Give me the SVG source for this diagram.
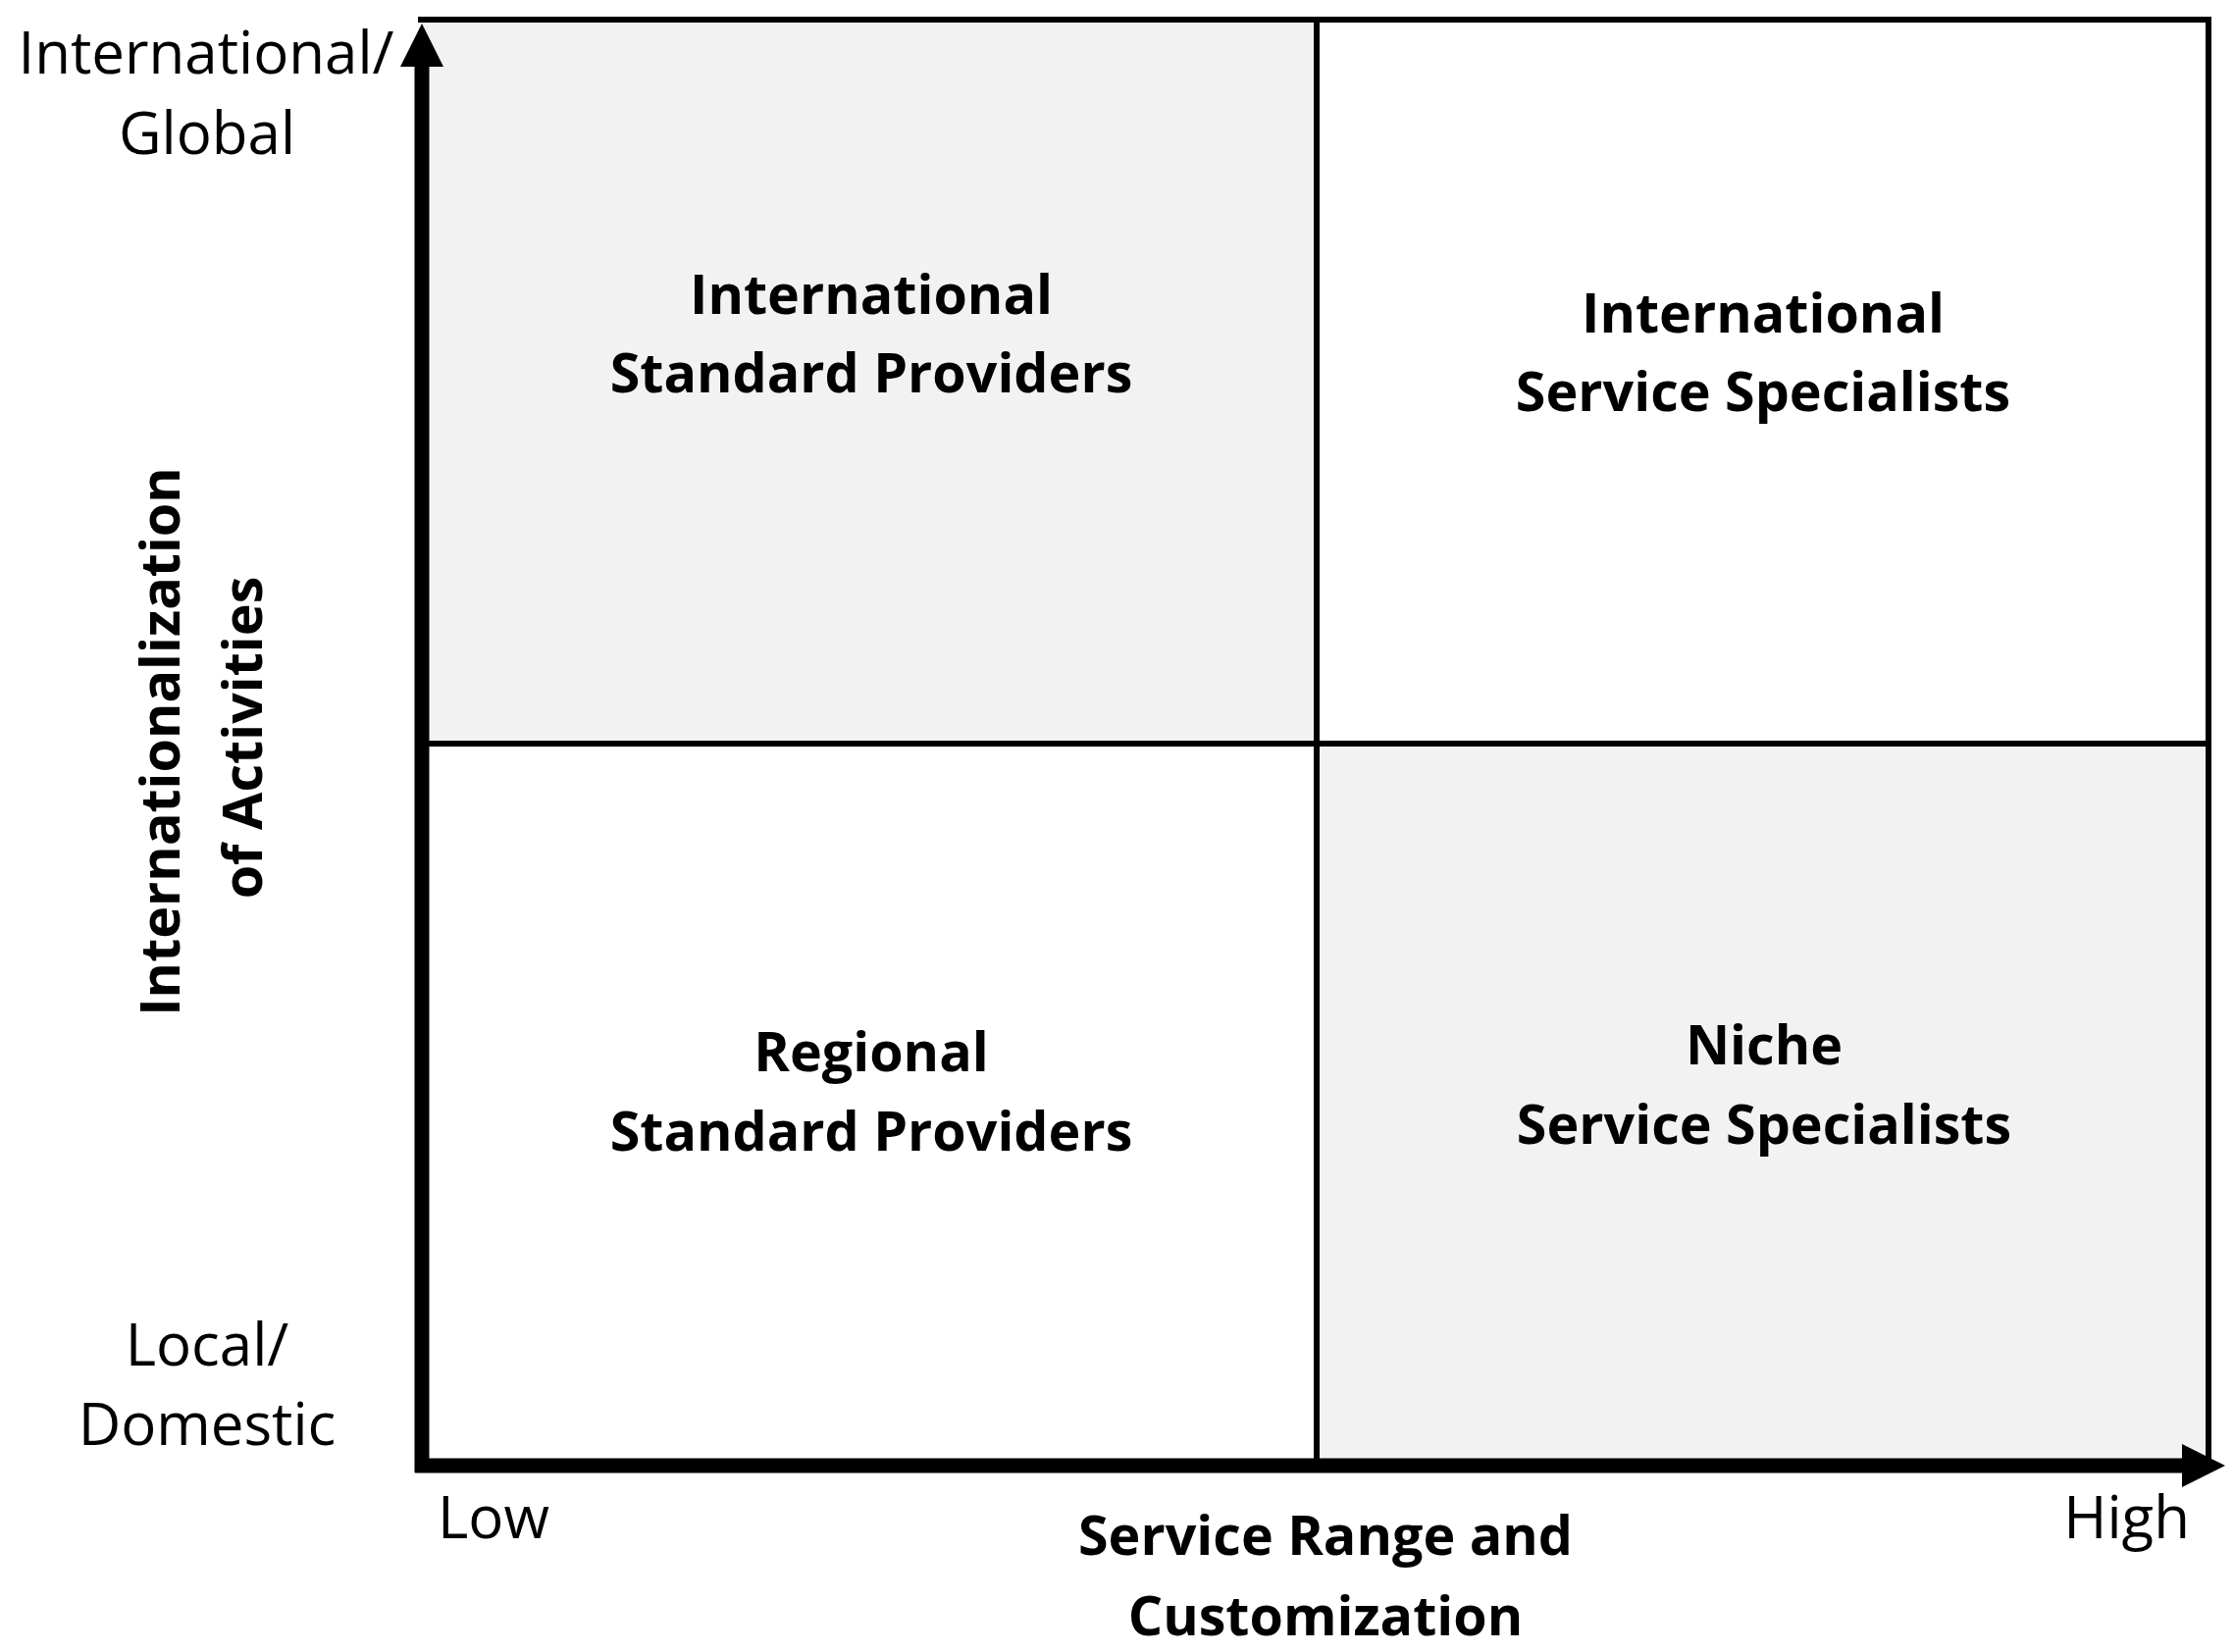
<svg xmlns="http://www.w3.org/2000/svg" width="2277" height="1684" viewBox="0 0 2277 1684">
<style>
  .lbl { font-family: "Open Sans", "Noto Sans", "Liberation Sans", sans-serif; fill: #000; text-anchor: middle; }
  .reg { font-size: 60px; font-weight: 400; }
  .bold { font-size: 55.6px; font-weight: 700; }
  .thin { stroke: #000; stroke-width: 6; fill: none; }
  .axis { stroke: #000; stroke-width: 15; fill: none; }
  .shade { fill: #f2f2f2; }
</style>
<rect x="0" y="0" width="2277" height="1684" fill="#ffffff"/>
<g id="quadrant-international-standard">
  <rect class="shade" x="430" y="20" width="912" height="738"/>
  <text class="lbl bold" x="888" y="320">International</text>
  <text class="lbl bold" x="888" y="400">Standard Providers</text>
</g>
<g id="quadrant-international-service">
  <text class="lbl bold" x="1797" y="339">International</text>
  <text class="lbl bold" x="1797" y="419">Service Specialists</text>
</g>
<g id="quadrant-regional-standard">
  <text class="lbl bold" x="888" y="1092">Regional</text>
  <text class="lbl bold" x="888" y="1173">Standard Providers</text>
</g>
<g id="quadrant-niche-service">
  <rect class="shade" x="1342" y="758" width="909" height="736"/>
  <text class="lbl bold" x="1798" y="1085">Niche</text>
  <text class="lbl bold" x="1798" y="1166">Service Specialists</text>
</g>
<g id="grid">
  <line class="thin" x1="426" y1="20" x2="2254" y2="20"/>
  <line class="thin" x1="2251" y1="17" x2="2251" y2="1494"/>
  <line class="thin" x1="1342" y1="20" x2="1342" y2="1494"/>
  <line class="thin" x1="430" y1="758" x2="2251" y2="758"/>
</g>
<g id="connectors">
  <line class="axis" x1="430" y1="1501" x2="430" y2="64"/>
  <polygon points="430,24 452,68 408,68" fill="#000"/>
  <line class="axis" x1="423" y1="1494" x2="2228" y2="1494"/>
  <polygon points="2268,1494 2224,1472 2224,1516" fill="#000"/>
</g>
<g id="y-axis-labels">
  <text class="lbl reg" x="210" y="75">International/</text>
  <text class="lbl reg" x="211" y="157">Global</text>
  <text class="lbl reg" x="211" y="1392">Local/</text>
  <text class="lbl reg" x="211" y="1473">Domestic</text>
  <text class="lbl bold" transform="translate(183,756) rotate(-90)" x="0" y="0">Internationalization</text>
  <text class="lbl bold" transform="translate(267,752) rotate(-90)" x="0" y="0">of Activities</text>
</g>
<g id="x-axis-labels">
  <text class="lbl reg" x="446" y="1568" style="text-anchor:start">Low</text>
  <text class="lbl reg" x="2232" y="1568" style="text-anchor:end">High</text>
  <text class="lbl bold" x="1351" y="1585">Service Range and</text>
  <text class="lbl bold" x="1351" y="1667">Customization</text>
</g>
</svg>
